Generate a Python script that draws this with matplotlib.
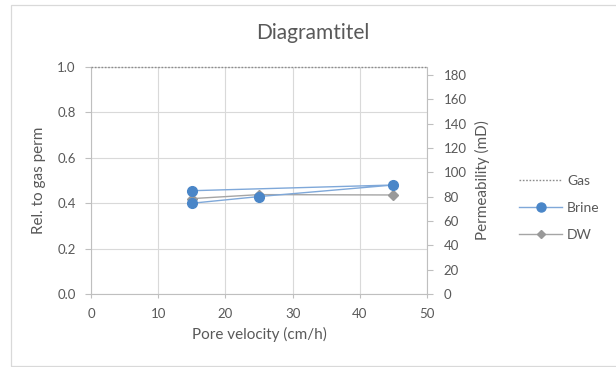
import matplotlib
matplotlib.use("Agg")
import matplotlib.pyplot as plt
from matplotlib.lines import Line2D
from matplotlib.patches import Rectangle

plt.rcParams['font.family'] = ['Lato', 'DejaVu Sans']

# Data
gas_perm = 186.6  # mD, reference permeability (rel = 1.0)
gas_x = [0, 50]
gas_rel = [1.0, 1.0]

brine_x = [15, 45, 25, 15]
brine_perm = [84.9, 89.6, 80.1, 74.6]

dw_x = [15, 25, 45]
dw_perm = [78.4, 81.7, 81.4]

txt = '#595959'
grid = '#d9d9d9'
W, H = 616, 367

fig = plt.figure(figsize=(W / 100, H / 100), dpi=100)
# chart-area frame
fig.patches.append(Rectangle((11 / W, 1 - 366 / H), (W + 10 - 11) / W, (366 - 5) / H,
                             transform=fig.transFigure, fill=False,
                             edgecolor='#d9d9d9', linewidth=0.9))

ax = fig.add_axes([91 / W, 1 - 294 / H, (427 - 91) / W, (294 - 67) / H])
ax2 = ax.twinx()

ax.set_xlim(0, 50)
ax.set_ylim(0, 1.0)
ax2.set_ylim(0, gas_perm)

ax.set_xticks(range(0, 51, 10))
ax.set_yticks([0, 0.2, 0.4, 0.6, 0.8, 1.0])
ax.set_yticklabels(['0.0', '0.2', '0.4', '0.6', '0.8', '1.0'])
ax2.set_yticks(range(0, 181, 20))

ax.grid(True, color=grid, linewidth=0.8)
ax.set_axisbelow(True)

ax.spines['top'].set_visible(False)
ax2.spines['top'].set_visible(False)
ax.spines['right'].set_visible(False)
ax2.spines['left'].set_visible(False)
ax2.spines['bottom'].set_visible(False)
ax.spines['left'].set_color('#bfbfbf')
ax.spines['bottom'].set_color('#bfbfbf')
ax2.spines['right'].set_color('#bfbfbf')

ax.tick_params(axis='x', length=3, color='#bfbfbf', labelcolor=txt, labelsize=9.5, pad=7)
ax.tick_params(axis='y', length=4, color='#bfbfbf', labelcolor=txt, labelsize=9.5, pad=7)
ax2.tick_params(axis='y', length=4, color='#bfbfbf', labelcolor=txt, labelsize=9.5, pad=8)

ax.plot(gas_x, gas_rel, linestyle=(0, (1.2, 1.2)), color='#8c8c8c',
        linewidth=1.0, clip_on=False, zorder=5)
ax2.plot(brine_x, brine_perm, color='#7fa8d9', linewidth=1.0,
         marker='o', markersize=7, markerfacecolor='#4a86c8',
         markeredgecolor='#4a86c8', zorder=4)
ax2.plot(dw_x, dw_perm, color='#a5a5a5', linewidth=1.0,
         marker='D', markersize=5, markerfacecolor='#999999',
         markeredgecolor='#999999', zorder=3)

ax.set_xlabel('Pore velocity (cm/h)', color=txt, fontsize=11, labelpad=5)
ax.set_ylabel('Rel. to gas perm', color=txt, fontsize=11, labelpad=8)
ax2.set_ylabel('Permeability (mD)', color=txt, fontsize=11, labelpad=6)

fig.text(313 / W, 1 - 33 / H, 'Diagramtitel', ha='center', va='center',
         color=txt, fontsize=15)

handles = [
    Line2D([], [], linestyle=(0, (1.2, 1.2)), color='#8c8c8c', linewidth=1.0),
    Line2D([], [], color='#7fa8d9', linewidth=1.0, marker='o', markersize=6.5,
           markerfacecolor='#4a86c8', markeredgecolor='#4a86c8'),
    Line2D([], [], color='#a5a5a5', linewidth=1.0, marker='D', markersize=4.5,
           markerfacecolor='#999999', markeredgecolor='#999999'),
]
fig.legend(handles, ['Gas', 'Brine', 'DW'], loc='center left',
           bbox_to_anchor=(519 / W, 1 - 208 / H), frameon=False, fontsize=10,
           labelcolor=txt, handlelength=3.1, labelspacing=1.1, handletextpad=0.35,
           borderpad=0, borderaxespad=0)

fig.savefig('out.png', dpi=100)
